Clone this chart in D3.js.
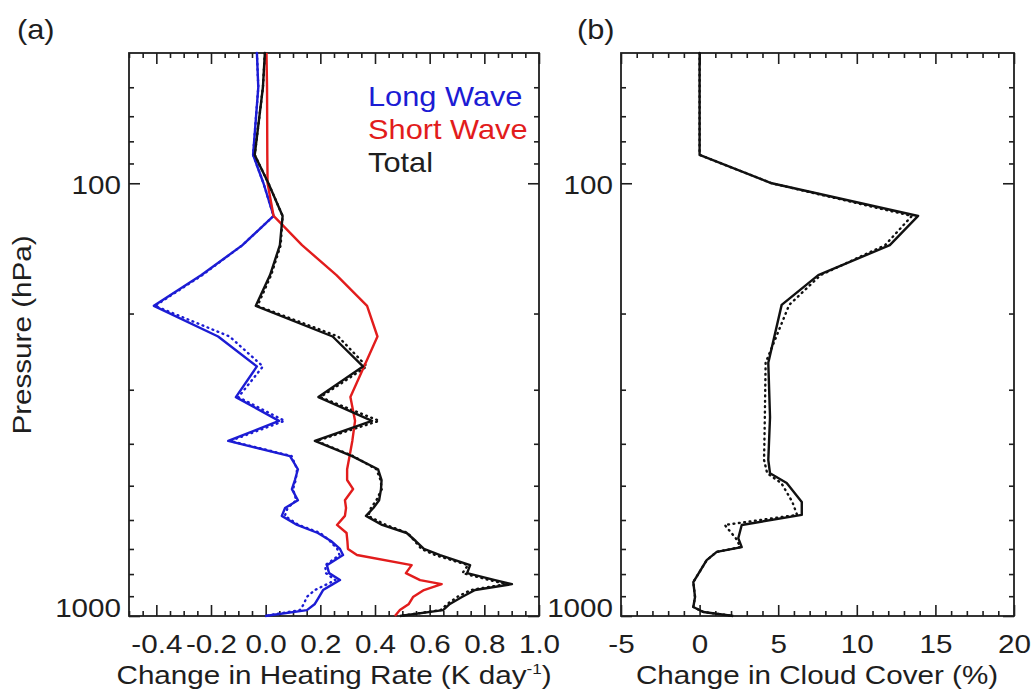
<!DOCTYPE html>
<html>
<head>
<meta charset="utf-8">
<script src="https://d3js.org/d3.v7.min.js"></script>
<style>
  body { margin: 0; background: #fff; }
  text { font-family: "Liberation Sans", Arial, sans-serif; }
</style>
</head>
<body>
<div id="chart"></div>
<script>

// panel (a): pressure levels (hPa) and change in heating rate (K/day)
var levelsA    = [50, 60, 86, 100, 119, 139, 163, 192, 226, 265, 312, 354, 394, 427, 458, 485, 509,
                  540, 563, 587, 616, 643, 671, 700, 723, 763, 796, 826, 844, 871, 904, 938, 969, 1000];
var longWave   = [-0.032, -0.027, -0.046, -0.008, 0.029, -0.085, -0.235, -0.409, -0.174, -0.032, -0.109, 0.049, -0.137, 0.089, 0.118, 0.107, 0.096,
                  0.118, 0.071, 0.059, 0.115, 0.191, 0.239, 0.272, 0.283, 0.224, 0.232, 0.272, 0.246, 0.210, 0.195, 0.180, 0.151, -0.002];
var longWaveDot = [-0.032, -0.027, -0.046, -0.008, 0.029, -0.085, -0.232, -0.405, -0.132, -0.010, -0.100, 0.069, -0.130, 0.095, 0.115, 0.110, 0.100,
                  0.112, 0.080, 0.070, 0.120, 0.200, 0.235, 0.262, 0.270, 0.218, 0.220, 0.255, 0.225, 0.180, 0.150, 0.140, 0.125, -0.002];
var shortWave  = [0.003, 0.005, 0.006, 0.007, 0.029, 0.133, 0.259, 0.371, 0.409, 0.360, 0.310, 0.327, 0.317, 0.307, 0.298, 0.298, 0.320,
                  0.290, 0.294, 0.290, 0.261, 0.296, 0.299, 0.301, 0.334, 0.534, 0.513, 0.565, 0.644, 0.579, 0.539, 0.524, 0.491, 0.473];
var total      = [-0.003, -0.010, -0.040, 0.010, 0.062, 0.052, 0.016, -0.036, 0.245, 0.356, 0.193, 0.389, 0.180, 0.316, 0.411, 0.424, 0.422,
                  0.415, 0.394, 0.367, 0.426, 0.516, 0.549, 0.579, 0.638, 0.748, 0.737, 0.839, 0.901, 0.766, 0.718, 0.674, 0.649, 0.491];
var totalDot   = [-0.003, -0.010, -0.040, 0.010, 0.062, 0.055, 0.020, -0.030, 0.265, 0.370, 0.200, 0.415, 0.185, 0.320, 0.405, 0.420, 0.425,
                  0.405, 0.385, 0.375, 0.440, 0.520, 0.545, 0.570, 0.620, 0.740, 0.720, 0.820, 0.880, 0.750, 0.700, 0.665, 0.640, 0.491];

// panel (b): change in cloud cover (%)
var levelsB    = [50, 86, 100, 119, 139, 163, 191, 260, 347, 436, 468, 493, 545, 584, 616, 661, 693, 711, 743, 835, 904, 953, 979, 1000];
var cloud      = [0, 0, 4.59, 13.9, 12.1, 7.55, 5.22, 4.37, 4.48, 4.37, 4.48, 5.54, 6.5, 6.5, 2.68, 2.46, 2.68, 1.09, 0.45, -0.40, -0.29, -0.40, 0.24, 2.14];
var cloudDot   = [0, 0, 4.59, 13.5, 11.8, 7.7, 5.7, 4.2, 4.15, 4.1, 4.3, 5.2, 5.9, 6.2, 1.6, 2.3, 2.6, 1.09, 0.45, -0.40, -0.29, -0.40, 0.24, 2.14];

// tick labels
var xTicksA = [-0.4, -0.2, 0.0, 0.2, 0.4, 0.6, 0.8, 1.0];
var xTicksB = [-5, 0, 5, 10, 15, 20];
var yTicks  = [100, 1000];
var yMinor  = [60, 70, 80, 90, 200, 300, 400, 500, 600, 700, 800, 900];

var width = 1034, height = 696;
var yTop = 53, yBot = 616;
var SX = 1.14;          // the original lettering is a little wider than Liberation Sans
var ink = "#1e1e1e";
var blue = "#1c1cd4", red = "#e21c1c";

var svg = d3.select("#chart").append("svg")
    .attr("width", width)
    .attr("height", height)
    .style("background", "#fff");

var y = d3.scaleLog().domain([1000, 50]).range([yBot, yTop]);

var xA = d3.scaleLinear().domain([-0.5, 1.0]).range([129, 539]);
var xB = d3.scaleLinear().domain([-5, 20]).range([621, 1014]);

// plain hyphen instead of the unicode minus d3 uses
function hyphen(f) {
  return function(d) { return f(d).replace("\u2212", "-"); };
}

function range(a, b, step) {
  var out = [];
  for (var v = a; v <= b + 1e-9; v += step) out.push(+v.toFixed(4));
  return out;
}
var xMinorA = range(-0.5, 1.0, 0.05).filter(function(v) {
  return !xTicksA.some(function(t) { return Math.abs(t - v) < 1e-6; });
});
var xMinorB = range(-5, 20, 1).filter(function(v) { return xTicksB.indexOf(v) < 0; });

function styleAxis(g) {
  g.select(".domain").remove();
  g.attr("color", ink).attr("font-family", null).attr("font-size", 26);
  g.selectAll(".tick line").attr("stroke-width", 1.6);
}

function drawPanel(x, majors, minors, fmt) {
  var left = x.range()[0], right = x.range()[1];
  var g = svg.append("g");

  // bottom & top, minor then major (ticks point inward)
  g.append("g").attr("transform", "translate(0," + yBot + ")")
    .call(d3.axisBottom(x).tickValues(minors).tickSize(-5).tickFormat(""))
    .call(styleAxis);
  g.append("g").attr("transform", "translate(0," + yBot + ")")
    .call(d3.axisBottom(x).tickValues(majors).tickSize(-11).tickPadding(19).tickFormat(hyphen(fmt)))
    .call(styleAxis)
    .selectAll("text").attr("transform", "scale(" + SX + ",1)");
  g.append("g").attr("transform", "translate(0," + yTop + ")")
    .call(d3.axisTop(x).tickValues(minors).tickSize(-5).tickFormat(""))
    .call(styleAxis);
  g.append("g").attr("transform", "translate(0," + yTop + ")")
    .call(d3.axisTop(x).tickValues(majors).tickSize(-11).tickFormat(""))
    .call(styleAxis);

  // left & right pressure axes
  g.append("g").attr("transform", "translate(" + left + ",0)")
    .call(d3.axisLeft(y).tickValues(yMinor).tickSize(-5).tickFormat(""))
    .call(styleAxis);
  var yl = g.append("g").attr("transform", "translate(" + left + ",0)")
    .call(d3.axisLeft(y).tickValues(yTicks).tickSize(-11).tickPadding(7).tickFormat(d3.format("d")))
    .call(styleAxis);
  yl.selectAll("text")
    .attr("transform", "scale(" + SX + ",1)")
    .attr("dy", function(d) { return d === 1000 ? "0.03em" : "0.39em"; });
  g.append("g").attr("transform", "translate(" + right + ",0)")
    .call(d3.axisRight(y).tickValues(yMinor).tickSize(-5).tickFormat(""))
    .call(styleAxis);
  g.append("g").attr("transform", "translate(" + right + ",0)")
    .call(d3.axisRight(y).tickValues(yTicks).tickSize(-11).tickFormat(""))
    .call(styleAxis);

  // frame
  g.append("rect")
    .attr("x", left).attr("y", yTop)
    .attr("width", right - left).attr("height", yBot - yTop)
    .attr("fill", "none").attr("stroke", ink).attr("stroke-width", 1.8);
  return g;
}

drawPanel(xA, xTicksA, xMinorA, d3.format(".1f"));
drawPanel(xB, xTicksB, xMinorB, d3.format("d"));

function profile(x, levels, values, color, dotted) {
  var pts = levels.map(function(p, i) { return { p: p, v: values[i] }; });
  svg.append("path")
    .datum(pts)
    .attr("fill", "none")
    .attr("stroke", color)
    .attr("stroke-width", dotted ? 2.4 : 2.4)
    .attr("stroke-linejoin", "round")
    .attr("stroke-linecap", dotted ? "round" : "butt")
    .attr("stroke-dasharray", dotted ? "0.8,4.6" : null)
    .attr("d", d3.line()
      .x(function(d) { return x(d.v); })
      .y(function(d) { return y(d.p); }));
}

// dotted companions first, then solid lines
profile(xA, levelsA, longWaveDot, blue, true);
profile(xA, levelsA, totalDot, "#111", true);
profile(xA, levelsA, longWave, blue, false);
profile(xA, levelsA, shortWave, red, false);
profile(xA, levelsA, total, "#111", false);

profile(xB, levelsB, cloudDot, "#111", true);
profile(xB, levelsB, cloud, "#111", false);

// text helper: stretched to match the wider original lettering
function label(x, yPos, str, size, color, anchor) {
  return svg.append("text")
    .attr("transform", "translate(" + x + "," + yPos + ") scale(" + SX + ",1)")
    .attr("font-size", size)
    .attr("fill", color || ink)
    .attr("text-anchor", anchor || "start")
    .text(str);
}

// legend
label(368, 106, "Long Wave", 27, blue);
label(368, 139, "Short Wave", 27, red);
label(368, 172, "Total", 27, ink);

// panel tags
label(17, 39, "(a)", 27);
label(577, 39, "(b)", 27);

// axis titles
var tA = svg.append("text")
  .attr("transform", "translate(334,684) scale(" + SX + ",1)")
  .attr("font-size", 26).attr("fill", ink).attr("text-anchor", "middle");
tA.append("tspan").text("Change in Heating Rate (K day");
tA.append("tspan").attr("font-size", 15).attr("dy", -10).text("-1");
tA.append("tspan").attr("dy", 10).text(")");

label(817, 684, "Change in Cloud Cover (%)", 26, ink, "middle");

svg.append("text")
  .attr("transform", "translate(31,335) rotate(-90) scale(" + SX + ",1)")
  .attr("font-size", 26).attr("fill", ink).attr("text-anchor", "middle")
  .text("Pressure (hPa)");

</script>
</body>
</html>
